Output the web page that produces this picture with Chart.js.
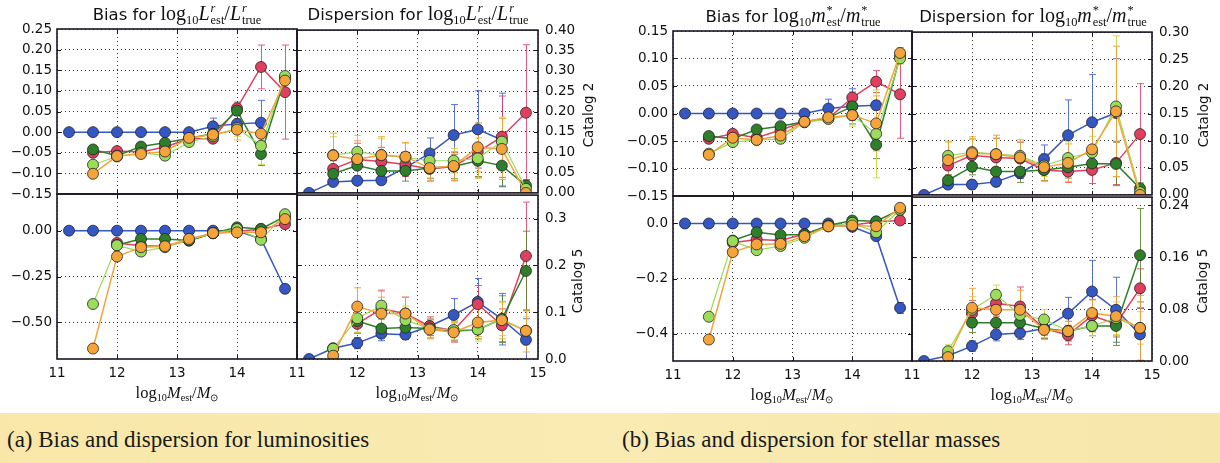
<!DOCTYPE html>
<html><head><meta charset="utf-8">
<script src="https://cdn.jsdelivr.net/npm/chart.js@4.4.0/dist/chart.umd.min.js"></script>
<style>
html,body{margin:0;padding:0;}
body{width:1220px;height:463px;background:#fff;position:relative;overflow:hidden;font-family:"DejaVu Sans",sans-serif;color:#111;}
canvas.p{position:absolute;}
.ttl{position:absolute;transform:translateX(-50%);white-space:nowrap;font-size:16.5px;line-height:22px;color:#111;}
.m{font-family:"Liberation Serif",serif;font-size:20px;}
.m sub{font-size:0.62em;vertical-align:-0.3em;line-height:0;}
.ss{display:inline-block;vertical-align:-0.32em;font-size:0.62em;line-height:0.95;text-align:left;margin-left:1px;}
.ss span{display:block;}
.ss span.s1{font-style:italic;}
.xl{position:absolute;transform:translate(-50%,-50%);white-space:nowrap;line-height:20px;}
.xl .m{font-size:16.5px;}
.cat{position:absolute;transform:translate(-50%,-50%) rotate(-90deg);white-space:nowrap;font-size:13.5px;line-height:16px;color:#111;}
.band{position:absolute;left:0;top:413px;width:1220px;height:50px;background:linear-gradient(90deg,#f8e7a8,#f9ebb3 50%,#f7e6aa);}
.cap{position:absolute;top:426px;white-space:nowrap;font-family:"Liberation Serif",serif;font-size:23px;line-height:28px;color:#1a1a1a;}
</style></head><body>
<div class="band"></div>
<script>
// ---------------- DATA ----------------
const massBins = [11.2, 11.6, 12.0, 12.4, 12.8, 13.2, 13.6, 14.0, 14.4, 14.8];
const seriesNames = ['blue', 'red', 'dark green', 'light green', 'orange'];
const xTickValues = [11, 12, 13, 14, 15];

// rows: blue, red, dark green, light green, orange
const lumBiasCat2 = [
  [0, 0, 0, 0, 0, 0, 0.014, 0.020, 0.023, null],
  [null, -0.050, -0.046, -0.048, -0.036, -0.016, -0.016, 0.058, 0.158, 0.097],
  [null, -0.042, -0.057, -0.035, -0.026, -0.015, -0.004, 0.052, -0.053, 0.132],
  [null, -0.079, -0.059, -0.050, -0.057, -0.024, -0.010, 0.010, -0.033, 0.136],
  [null, -0.101, -0.058, -0.053, -0.047, -0.014, -0.006, 0.006, -0.004, 0.125]
];
const lumBiasCat2Err = [
  [0, 0, 0, 0, 0, 0.002, 0.020, 0.012, 0.054, null],
  [null, 0.006, 0.006, 0.006, 0.006, 0.005, 0.006, 0.015, 0.053, 0.114],
  [null, 0.006, 0.006, 0.006, 0.006, 0.005, 0.006, 0.012, 0.028, 0.010],
  [null, 0.006, 0.006, 0.006, 0.006, 0.005, 0.006, 0.020, 0.045, 0.010],
  [null, 0.008, 0.006, 0.006, 0.006, 0.005, 0.006, 0.025, 0.020, 0.010]
];
const lumDispCat2 = [
  [0, 0.027, 0.030, 0.031, 0.062, 0.097, 0.142, 0.156, 0.130, null],
  [null, 0.059, 0.082, 0.077, 0.070, 0.059, 0.065, 0.100, 0.138, 0.197],
  [null, 0.047, 0.067, 0.054, 0.054, 0.061, 0.065, 0.079, 0.067, 0.018],
  [null, 0.093, 0.101, 0.093, 0.087, 0.079, 0.079, 0.085, 0.126, 0.010],
  [null, 0.092, 0.083, 0.093, 0.089, 0.061, 0.066, 0.112, 0.108, 0.000]
];
const lumDispCat2Err = [
  [0, 0.005, 0.005, 0.005, 0.010, 0.038, 0.075, 0.095, 0.115, null],
  [null, 0.020, 0.040, 0.035, 0.030, 0.030, 0.035, 0.060, 0.100, 0.167],
  [null, 0.020, 0.030, 0.030, 0.025, 0.025, 0.030, 0.040, 0.050, 0.015],
  [null, 0.045, 0.040, 0.040, 0.035, 0.030, 0.030, 0.050, 0.060, 0.015],
  [null, 0.055, 0.045, 0.045, 0.035, 0.030, 0.035, 0.060, 0.075, 0.010]
];
const lumBiasCat5 = [
  [0, 0, 0, 0, 0, 0, 0, 0, -0.045, -0.317],
  [null, null, -0.067, -0.082, -0.085, -0.054, -0.014, -0.004, 0.009, 0.036],
  [null, null, -0.078, -0.045, -0.045, -0.054, -0.014, 0.018, 0.009, 0.078],
  [null, -0.400, -0.080, -0.114, -0.090, -0.050, -0.014, 0.009, -0.050, 0.090],
  [null, -0.643, -0.141, -0.090, -0.085, -0.045, -0.013, -0.009, -0.009, 0.063]
];
const lumBiasCat5Err = [
  [0, 0, 0, 0, 0, 0, 0, 0.005, 0.008, 0.020],
  [null, null, 0.010, 0.010, 0.010, 0.010, 0.010, 0.010, 0.010, 0.015],
  [null, null, 0.010, 0.010, 0.010, 0.010, 0.010, 0.010, 0.010, 0.015],
  [null, 0.010, 0.010, 0.010, 0.010, 0.010, 0.010, 0.010, 0.010, 0.015],
  [null, 0.010, 0.010, 0.010, 0.010, 0.010, 0.010, 0.010, 0.010, 0.015]
];
const lumDispCat5 = [
  [0, 0.023, 0.034, 0.054, 0.052, 0.070, 0.094, 0.122, 0.085, 0.041],
  [null, null, 0.075, 0.107, 0.097, 0.070, 0.061, 0.117, 0.072, 0.220],
  [null, null, 0.081, 0.065, 0.067, 0.065, 0.059, 0.063, 0.085, 0.188],
  [null, 0.022, 0.087, 0.114, 0.083, 0.065, 0.062, 0.063, 0.085, 0.060],
  [null, 0.007, 0.112, 0.097, 0.097, 0.063, 0.057, 0.078, 0.083, 0.060]
];
const lumDispCat5Err = [
  [0, 0.005, 0.012, 0.015, 0.010, 0.015, 0.035, 0.050, 0.055, 0.045],
  [null, null, 0.020, 0.040, 0.035, 0.020, 0.025, 0.040, 0.035, 0.115],
  [null, null, 0.025, 0.020, 0.020, 0.020, 0.020, 0.020, 0.050, 0.085],
  [null, 0.010, 0.030, 0.030, 0.030, 0.020, 0.020, 0.025, 0.035, 0.030],
  [null, 0.010, 0.040, 0.035, 0.035, 0.020, 0.020, 0.030, 0.040, 0.045]
];
const massBiasCat2 = [
  [0, 0, 0, 0, 0, 0, 0.009, 0.013, 0.015, null],
  [null, -0.046, -0.037, -0.044, -0.030, -0.015, -0.009, 0.029, 0.058, 0.035],
  [null, -0.041, -0.046, -0.029, -0.023, -0.015, -0.008, 0.013, -0.057, 0.104],
  [null, -0.073, -0.052, -0.048, -0.046, -0.016, -0.010, -0.003, -0.037, 0.100],
  [null, -0.075, -0.044, -0.048, -0.040, -0.015, -0.007, -0.003, -0.018, 0.110]
];
const massBiasCat2Err = [
  [0, 0, 0, 0, 0, 0.002, 0.017, 0.032, 0.008, null],
  [null, 0.005, 0.005, 0.005, 0.005, 0.004, 0.005, 0.010, 0.020, 0.080],
  [null, 0.005, 0.005, 0.005, 0.005, 0.004, 0.005, 0.020, 0.025, 0.010],
  [null, 0.005, 0.005, 0.005, 0.005, 0.004, 0.005, 0.020, 0.080, 0.010],
  [null, 0.008, 0.005, 0.005, 0.005, 0.004, 0.005, 0.010, 0.050, 0.010]
];
const massDispCat2 = [
  [0, 0.019, 0.019, 0.024, 0.040, 0.066, 0.110, 0.134, 0.151, null],
  [null, 0.054, 0.073, 0.069, 0.067, 0.046, 0.043, 0.046, 0.059, 0.112],
  [null, 0.027, 0.052, 0.043, 0.043, 0.046, 0.051, 0.058, 0.057, 0.012],
  [null, 0.072, 0.079, 0.075, 0.072, 0.054, 0.068, 0.078, 0.163, 0.005],
  [null, 0.064, 0.077, 0.075, 0.069, 0.051, 0.059, 0.084, 0.154, 0.000]
];
const massDispCat2Err = [
  [0, 0.005, 0.008, 0.008, 0.010, 0.026, 0.065, 0.088, 0.100, null],
  [null, 0.020, 0.030, 0.035, 0.030, 0.020, 0.020, 0.025, 0.040, 0.093],
  [null, 0.010, 0.015, 0.020, 0.020, 0.020, 0.020, 0.020, 0.040, 0.010],
  [null, 0.025, 0.025, 0.030, 0.030, 0.020, 0.030, 0.030, 0.130, 0.010],
  [null, 0.035, 0.030, 0.035, 0.030, 0.025, 0.035, 0.040, 0.120, 0.010]
];
const massBiasCat5 = [
  [0, 0, 0, 0, 0, 0, 0, -0.012, -0.046, -0.307],
  [null, null, -0.070, -0.058, -0.062, -0.038, -0.010, -0.006, 0.006, 0.011],
  [null, null, -0.062, -0.032, -0.042, -0.040, -0.007, 0.011, 0.008, 0.050],
  [null, -0.339, -0.064, -0.097, -0.082, -0.052, -0.010, 0.002, -0.032, 0.050],
  [null, -0.422, -0.104, -0.076, -0.074, -0.046, -0.010, -0.007, -0.010, 0.057]
];
const massBiasCat5Err = [
  [0, 0, 0, 0, 0, 0, 0, 0.005, 0.008, 0.020],
  [null, null, 0.010, 0.010, 0.010, 0.010, 0.010, 0.010, 0.010, 0.015],
  [null, null, 0.010, 0.010, 0.010, 0.010, 0.010, 0.010, 0.010, 0.015],
  [null, 0.010, 0.010, 0.010, 0.010, 0.010, 0.010, 0.010, 0.010, 0.015],
  [null, 0.010, 0.010, 0.010, 0.010, 0.010, 0.010, 0.010, 0.010, 0.015]
];
const massDispCat5 = [
  [0, 0.008, 0.023, 0.041, 0.043, 0.050, 0.073, 0.107, 0.079, 0.041],
  [null, null, 0.073, 0.089, 0.084, 0.050, 0.040, 0.070, 0.057, 0.112],
  [null, null, 0.059, 0.059, 0.059, 0.050, 0.046, 0.054, 0.054, 0.163],
  [null, 0.015, 0.079, 0.102, 0.071, 0.064, 0.046, 0.054, 0.066, 0.051],
  [null, 0.006, 0.082, 0.079, 0.079, 0.048, 0.046, 0.074, 0.069, 0.051]
];
const massDispCat5Err = [
  [0, 0.005, 0.008, 0.010, 0.010, 0.010, 0.025, 0.048, 0.050, 0.040],
  [null, null, 0.020, 0.020, 0.030, 0.015, 0.015, 0.025, 0.020, 0.030],
  [null, null, 0.015, 0.015, 0.015, 0.015, 0.015, 0.015, 0.030, 0.072],
  [null, 0.010, 0.020, 0.015, 0.020, 0.015, 0.015, 0.015, 0.025, 0.025],
  [null, 0.008, 0.030, 0.030, 0.030, 0.015, 0.015, 0.020, 0.030, 0.050]
];

const yTicksLumBias2 = [-0.15, -0.10, -0.05, 0.00, 0.05, 0.10, 0.15, 0.20, 0.25];
const yTicksLumDisp2 = [0.00, 0.05, 0.10, 0.15, 0.20, 0.25, 0.30, 0.35, 0.40];
const yTicksLumBias5 = [-0.50, -0.25, 0.00];
const yTicksLumDisp5 = [0.0, 0.1, 0.2, 0.3];
const yTicksMassBias2 = [-0.15, -0.10, -0.05, 0.00, 0.05, 0.10, 0.15];
const yTicksMassDisp2 = [0.00, 0.05, 0.10, 0.15, 0.20, 0.25, 0.30];
const yTicksMassBias5 = [-0.4, -0.2, 0.0];
const yTicksMassDisp5 = [0.00, 0.08, 0.16, 0.24];

// ---------------- STYLE ----------------
const COLORS = ['#3557c4', '#e0405e', '#2f7f2a', '#9bdc5a', '#f5a43a'];
const ERR_COLORS = ['rgba(60,90,220,0.85)', 'rgba(230,60,100,0.85)', 'rgba(90,130,40,0.85)', 'rgba(205,215,60,0.9)', 'rgba(240,160,50,0.9)'];
const Z_ORDER = [4, 3, 2, 1, 0];

const errorBarPlugin = {
  id: 'errbars',
  beforeDatasetsDraw(chart) {
    const {ctx, chartArea: a, scales: {x, y}} = chart;
    ctx.save();
    ctx.beginPath(); ctx.rect(a.left, a.top, a.right - a.left, a.bottom - a.top); ctx.clip();
    chart.data.datasets.forEach(ds => {
      const errs = ds.errorBars; if (!errs) return;
      ctx.strokeStyle = ds.errorColor; ctx.lineWidth = 1;
      ds.data.forEach((p, i) => {
        if (p.y == null || errs[i] == null || errs[i] === 0) return;
        const px = Math.round(x.getPixelForValue(p.x)) + 0.5;
        const y1 = y.getPixelForValue(p.y - errs[i]), y2 = y.getPixelForValue(p.y + errs[i]);
        ctx.beginPath();
        ctx.moveTo(px, y1); ctx.lineTo(px, y2);
        ctx.moveTo(px - 3.5, y1); ctx.lineTo(px + 3.5, y1);
        ctx.moveTo(px - 3.5, y2); ctx.lineTo(px + 3.5, y2);
        ctx.stroke();
      });
    });
    ctx.restore();
  }
};
const framePlugin = {
  id: 'frame',
  afterDatasetsDraw(chart) {
    const {ctx, chartArea: a, scales: {x, y}} = chart;
    ctx.save();
    ctx.strokeStyle = '#1b1420'; ctx.lineWidth = 1;
    ctx.beginPath();
    x.ticks.forEach(t => {
      const px = Math.round(x.getPixelForValue(t.value)) + 0.5;
      if (px <= a.left + 1 || px >= a.right - 1) return;
      ctx.moveTo(px, a.bottom); ctx.lineTo(px, a.bottom - 4);
      ctx.moveTo(px, a.top); ctx.lineTo(px, a.top + 4);
    });
    y.ticks.forEach(t => {
      const py = Math.round(y.getPixelForValue(t.value)) + 0.5;
      if (py <= a.top + 1 || py >= a.bottom - 1) return;
      ctx.moveTo(a.left, py); ctx.lineTo(a.left + 4, py);
      ctx.moveTo(a.right, py); ctx.lineTo(a.right - 4, py);
    });
    ctx.stroke();
    ctx.lineWidth = 1.6;
    ctx.strokeRect(a.left, a.top, a.right - a.left, a.bottom - a.top);
    ctx.restore();
  }
};

function fmt(v, dec) {
  const s = Number(v).toFixed(dec);
  return s.startsWith('-') ? '\u2212' + s.slice(1) : s;
}

function makePanel(p) {
  const [l, t, r, b] = p.rect;
  const padL = p.side === 'left' ? 70 : 16;
  const padR = p.side === 'right' ? 70 : 16;
  const padT = 14, padB = p.showX ? 34 : 14;
  const w = r - l + padL + padR, h = b - t + padT + padB;
  const c = document.createElement('canvas');
  c.className = 'p';
  c.width = w; c.height = h;
  c.style.width = w + 'px'; c.style.height = h + 'px';
  c.style.left = (l - padL) + 'px'; c.style.top = (t - padT) + 'px';
  document.body.appendChild(c);
  const datasets = p.vals.map((row, i) => ({
    label: seriesNames[i],
    data: massBins.map((m, k) => ({x: m, y: row[k]})),
    errorBars: p.errs[i],
    errorColor: ERR_COLORS[i],
    borderColor: COLORS[i],
    backgroundColor: COLORS[i],
    borderWidth: i === 3 ? 1.2 : 1.5,
    pointRadius: 5.5,
    pointBorderWidth: 0.9,
    pointBorderColor: 'rgba(30,30,40,0.85)',
    pointBackgroundColor: COLORS[i],
    tension: 0,
    clip: 0,
    order: Z_ORDER[i]
  }));
  const gridStyle = {color: 'rgba(0,0,0,0.8)', lineWidth: 1, drawTicks: false};
  const borderStyle = {display: false, dash: [1, 3]};
  new Chart(c, {
    type: 'line',
    data: {datasets},
    options: {
      responsive: false, animation: false, devicePixelRatio: 1,
      events: [],
      layout: {padding: {top: padT, bottom: 0, left: p.side === 'left' ? 0 : padL, right: p.side === 'right' ? 0 : padR}},
      plugins: {legend: {display: false}, tooltip: {enabled: false}, title: {display: false}},
      scales: {
        x: {
          type: 'linear', min: 11, max: 15,
          afterBuildTicks: s => { s.ticks = xTickValues.map(v => ({value: v})); },
          afterFit: s => { s.height = padB; },
          grid: gridStyle,
          border: borderStyle,
          ticks: {
            display: p.showX, autoSkip: false, maxRotation: 0, padding: 6,
            color: '#111', font: {family: 'DejaVu Sans', size: 13.5},
            callback: v => (p.hideLastX && v === 15) ? '' : String(v)
          }
        },
        y: {
          type: 'linear', position: p.side, min: p.yRange[0], max: p.yRange[1],
          afterBuildTicks: s => { s.ticks = p.yTicks.map(v => ({value: v})); },
          afterFit: s => { s.width = p.side === 'left' ? padL : padR; },
          grid: gridStyle,
          border: borderStyle,
          ticks: {
            autoSkip: false, padding: p.side === 'left' ? 5 : 7,
            color: '#111', font: {family: 'DejaVu Sans', size: 13.5},
            callback: v => fmt(v, p.dec)
          }
        }
      }
    },
    plugins: [errorBarPlugin, framePlugin]
  });
}

const panels = [
  {rect: [57, 29, 297, 194], yRange: [-0.15, 0.25], yTicks: yTicksLumBias2, dec: 2, side: 'left', showX: false, vals: lumBiasCat2, errs: lumBiasCat2Err},
  {rect: [297, 29, 538, 194], yRange: [0, 0.40], yTicks: yTicksLumDisp2, dec: 2, side: 'right', showX: false, vals: lumDispCat2, errs: lumDispCat2Err},
  {rect: [57, 194, 297, 359], yRange: [-0.70, 0.20], yTicks: yTicksLumBias5, dec: 2, side: 'left', showX: true, hideLastX: true, vals: lumBiasCat5, errs: lumBiasCat5Err},
  {rect: [297, 194, 538, 359], yRange: [0, 0.35], yTicks: yTicksLumDisp5, dec: 1, side: 'right', showX: true, vals: lumDispCat5, errs: lumDispCat5Err},
  {rect: [673, 31, 912, 196], yRange: [-0.15, 0.15], yTicks: yTicksMassBias2, dec: 2, side: 'left', showX: false, vals: massBiasCat2, errs: massBiasCat2Err},
  {rect: [912, 31, 1152, 196], yRange: [0, 0.30], yTicks: yTicksMassDisp2, dec: 2, side: 'right', showX: false, vals: massDispCat2, errs: massDispCat2Err},
  {rect: [673, 196, 912, 361], yRange: [-0.5, 0.1], yTicks: yTicksMassBias5, dec: 1, side: 'left', showX: true, hideLastX: true, vals: massBiasCat5, errs: massBiasCat5Err},
  {rect: [912, 196, 1152, 361], yRange: [0, 0.2525], yTicks: yTicksMassDisp5, dec: 2, side: 'right', showX: true, vals: massDispCat5, errs: massDispCat5Err}
];
panels.forEach(makePanel);
</script>

<div class="ttl" style="left:177px;top:2px;">Bias for <span class="m">log<sub>10</sub><i>L</i><span class="ss"><span class="s1">r</span><span>est</span></span>/<i>L</i><span class="ss"><span class="s1">r</span><span>true</span></span></span></div>
<div class="ttl" style="left:418px;top:2px;">Dispersion for <span class="m">log<sub>10</sub><i>L</i><span class="ss"><span class="s1">r</span><span>est</span></span>/<i>L</i><span class="ss"><span class="s1">r</span><span>true</span></span></span></div>
<div class="ttl" style="left:793px;top:4px;">Bias for <span class="m">log<sub>10</sub><i>m</i><span class="ss"><span>*</span><span>est</span></span>/<i>m</i><span class="ss"><span>*</span><span>true</span></span></span></div>
<div class="ttl" style="left:1033px;top:4px;">Dispersion for <span class="m">log<sub>10</sub><i>m</i><span class="ss"><span>*</span><span>est</span></span>/<i>m</i><span class="ss"><span>*</span><span>true</span></span></span></div>

<div class="xl" style="left:177px;top:393px;"><span class="m">log<sub>10</sub><i>M</i><sub>est</sub>/<i>M</i><sub>⊙</sub></span></div>
<div class="xl" style="left:417px;top:393px;"><span class="m">log<sub>10</sub><i>M</i><sub>est</sub>/<i>M</i><sub>⊙</sub></span></div>
<div class="xl" style="left:792px;top:395px;"><span class="m">log<sub>10</sub><i>M</i><sub>est</sub>/<i>M</i><sub>⊙</sub></span></div>
<div class="xl" style="left:1032px;top:395px;"><span class="m">log<sub>10</sub><i>M</i><sub>est</sub>/<i>M</i><sub>⊙</sub></span></div>

<div class="cat" style="left:588px;top:115px;">Catalog 2</div>
<div class="cat" style="left:577px;top:281px;">Catalog 5</div>
<div class="cat" style="left:1203px;top:115px;">Catalog 2</div>
<div class="cat" style="left:1202px;top:281px;">Catalog 5</div>

<div class="cap" style="left:7px;">(a) Bias and dispersion for luminosities</div>
<div class="cap" style="left:622px;">(b) Bias and dispersion for stellar masses</div>
</body></html>
